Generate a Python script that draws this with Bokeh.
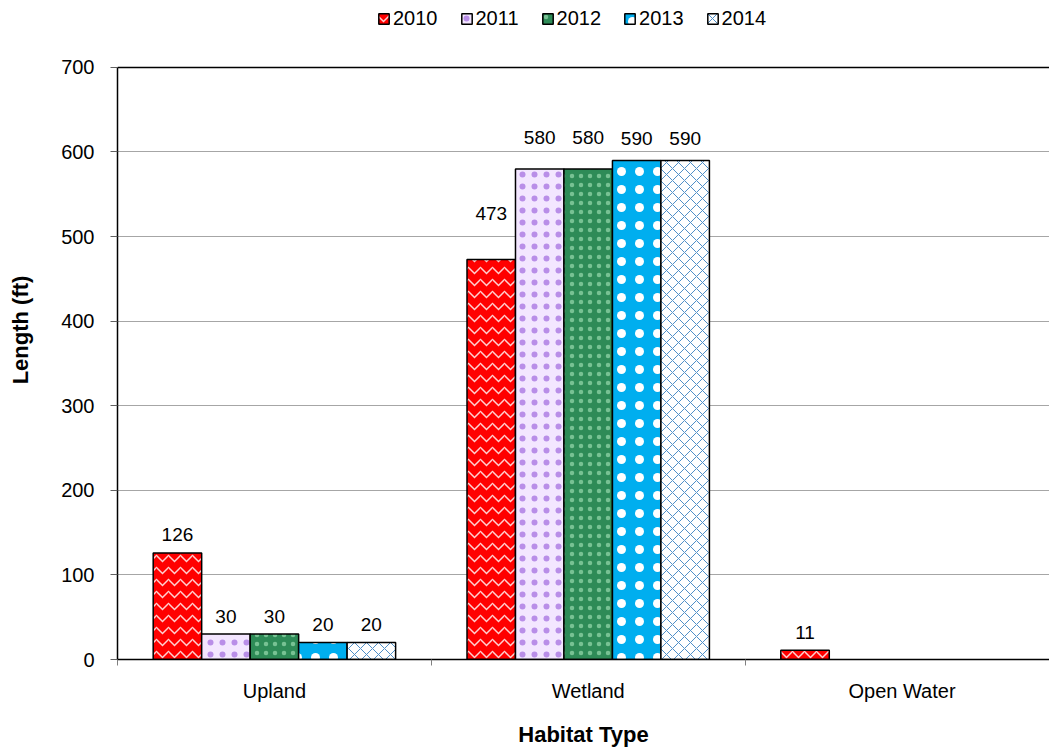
import numpy as np
from bokeh.plotting import figure
from bokeh.models import (ColumnDataSource, Range1d, FixedTicker, Legend,
                          LegendItem, Span, LabelSet)
from bokeh.core.properties import value
from bokeh.embed import file_html
from bokeh.resources import INLINE

# ---- data ----
habitats = ["Upland", "Wetland", "Open Water"]
years = ["2010", "2011", "2012", "2013", "2014"]
v2010 = [126, 473, 11]
v2011 = [30, 580, None]
v2012 = [30, 580, None]
v2013 = [20, 590, None]
v2014 = [20, 590, None]
series = [v2010, v2011, v2012, v2013, v2014]
y_ticks = [0, 100, 200, 300, 400, 500, 600, 700]
y_max = 700

# ---- styles ----
FONT = "Liberation Sans"
styles = [
    dict(fill_color="#ff0000", hatch_color="#ffd0d0", hatch_pattern="horizontal_wave", hatch_scale=12, hatch_weight=1.5),
    dict(fill_color="#f3e6ff", hatch_color="#b98ee8", hatch_pattern="dot", hatch_scale=12, hatch_weight=1),
    dict(fill_color="#2e8b57", hatch_color="#a8e6bb", hatch_pattern="dot", hatch_scale=9, hatch_weight=1, hatch_alpha=0.6),
    dict(fill_color="#00aeef", hatch_color="#ffffff", hatch_pattern="dot", hatch_scale=18, hatch_weight=1),
    dict(fill_color="#ffffff", hatch_color="#4f8fc8", hatch_pattern="diagonal_cross", hatch_scale=12, hatch_weight=1),
]
# label lift above bar top (px), default 18
label_lift = {("Wetland", "2010"): 46, ("Wetland", "2011"): 31, ("Wetland", "2012"): 31,
              ("Wetland", "2013"): 22, ("Wetland", "2014"): 22}

bar_w = 0.1545
centers = np.arange(len(habitats)) + 0.5

# frame spans the full height above the x axis; the value axis stops at y_max
# (700 units over 593 px), leaving room at the top of the frame for the legend
FRAME_H = 660
y_top = y_max * FRAME_H / 593.0

p = figure(width=1049, height=749, x_range=Range1d(0, 2.97), y_range=Range1d(0, y_top),
           output_backend="svg", toolbar_location=None,
           min_border_left=117, min_border_right=0, min_border_top=0, min_border_bottom=749 - FRAME_H)
p.outline_line_color = None
p.background_fill_color = "white"
p.xgrid.grid_line_color = None
p.ygrid.ticker = FixedTicker(ticks=y_ticks)
p.ygrid.grid_line_color = "#a6a6a6"
p.ygrid.grid_line_width = 1

items = []
for j, (yr, vals, st) in enumerate(zip(years, series, styles)):
    xs, tops, lt, lo = [], [], [], []
    for i, h in enumerate(habitats):
        v = vals[i]
        if v is None:
            continue
        xs.append(centers[i] + (j - 2) * bar_w)
        tops.append(v)
        lt.append(str(v))
        lo.append(label_lift.get((h, yr), 18))
    src = ColumnDataSource(dict(x=xs, top=tops, lt=lt, lo=lo))
    r = p.vbar(x="x", top="top", bottom=0, width=bar_w, source=src,
               line_color="black", line_width=1.5, **st)
    items.append(LegendItem(label=yr, renderers=[r]))
    labels = LabelSet(x="x", y="top", text="lt", y_offset="lo", source=src,
                      text_align="center", text_baseline="middle",
                      text_font=value(FONT), text_font_size="19px", text_color="black")
    p.add_layout(labels)

p.add_layout(Span(location=y_max, dimension="width", line_color="black", line_width=1.5))

# x axis
xa = p.xaxis[0]
xa.ticker = FixedTicker(ticks=list(centers), minor_ticks=[0, 1, 2])
xa.major_label_overrides = {float(c): h for c, h in zip(centers, habitats)}
xa.major_tick_out = 0
xa.major_tick_in = 0
xa.minor_tick_out = 6
xa.minor_tick_in = 0
xa.minor_tick_line_color = "#808080"
xa.axis_line_color = "black"
xa.axis_line_width = 1.5
xa.major_label_standoff = 14
xa.major_label_text_font = FONT
xa.major_label_text_font_size = "20px"
xa.major_label_text_color = "black"
xa.axis_label = "Habitat Type"
xa.axis_label_text_font = FONT
xa.axis_label_text_font_size = "22px"
xa.axis_label_text_font_style = "bold"
xa.axis_label_text_color = "black"
xa.axis_label_standoff = 17

# y axis
ya = p.yaxis[0]
ya.ticker = FixedTicker(ticks=y_ticks)
ya.bounds = (0, y_max)
ya.major_tick_out = 7
ya.major_tick_in = 0
ya.minor_tick_out = 0
ya.minor_tick_in = 0
ya.major_tick_line_color = "#606060"
ya.axis_line_color = "black"
ya.axis_line_width = 1.5
ya.major_label_standoff = 16
ya.major_label_text_font = FONT
ya.major_label_text_font_size = "20px"
ya.major_label_text_color = "black"
ya.axis_label = "Length (ft)"
ya.axis_label_text_font = FONT
ya.axis_label_text_font_size = "22px"
ya.axis_label_text_font_style = "bold"
ya.axis_label_text_color = "black"
ya.axis_label_standoff = 25

legend = Legend(items=items, location=(260, 629), orientation="horizontal",
                glyph_width=13, glyph_height=13, label_standoff=3, spacing=22,
                label_height=20, padding=2, margin=0, border_line_color=None,
                background_fill_alpha=0,
                label_text_font=FONT, label_text_font_size="20px", label_text_color="black")
p.add_layout(legend, "center")

open("out.html", "w").write(file_html(p, INLINE))
